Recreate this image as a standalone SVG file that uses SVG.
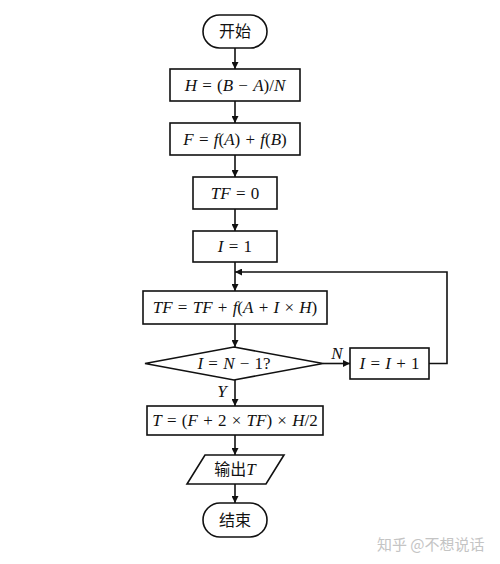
<svg xmlns="http://www.w3.org/2000/svg" width="500" height="564" viewBox="0 0 500 564">
<defs>
<marker id="ah" viewBox="0 0 10 10" refX="10" refY="5" markerWidth="7" markerHeight="7" markerUnits="userSpaceOnUse" orient="auto">
<path d="M0,0 L10,5 L0,10 z" fill="#111"/>
</marker>
<style>
.shape{fill:#fff;stroke:#111;stroke-width:1.6}
.conn{fill:none;stroke:#111;stroke-width:1.6}
.m{font-family:"Liberation Serif","DejaVu Serif",serif;font-size:17px;fill:#111;text-anchor:middle;word-spacing:1px}
.i{font-style:italic}
.cn{font-family:"Liberation Serif","Noto Sans CJK SC",serif;font-size:16px;fill:#111;text-anchor:middle}
.wm{font-family:"Noto Sans CJK SC",sans-serif;font-size:15px;fill:#c4c4c4}
</style>
</defs>
<rect width="500" height="564" fill="#fff"/>
<g id="connectors">
<line class="conn" x1="235" y1="48" x2="235" y2="69" marker-end="url(#ah)"/>
<line class="conn" x1="235" y1="101" x2="235" y2="123" marker-end="url(#ah)"/>
<line class="conn" x1="235" y1="155" x2="235" y2="177" marker-end="url(#ah)"/>
<line class="conn" x1="235" y1="209" x2="235" y2="231" marker-end="url(#ah)"/>
<line class="conn" x1="235" y1="262" x2="235" y2="291" marker-end="url(#ah)"/>
<line class="conn" x1="235" y1="324" x2="235" y2="347" marker-end="url(#ah)"/>
<line class="conn" x1="323" y1="363.5" x2="350" y2="363.5" marker-end="url(#ah)"/>
<polyline class="conn" points="429,363.5 447,363.5 447,272 235,272" marker-end="url(#ah)"/>
<line class="conn" x1="235" y1="380" x2="235" y2="406" marker-end="url(#ah)"/>
<line class="conn" x1="235" y1="435" x2="235" y2="455" marker-end="url(#ah)"/>
<line class="conn" x1="235" y1="484" x2="235" y2="503" marker-end="url(#ah)"/>
<text class="m i" x="337" y="359">N</text>
<text class="m i" x="222" y="397">Y</text>
</g>
<g id="start">
<rect class="shape" x="203" y="15" width="64" height="33" rx="16.5"/>
<text class="cn" x="235" y="37">开始</text>
</g>
<g id="h">
<rect class="shape" x="170" y="69" width="130" height="32"/>
<text class="m" x="235" y="91"><tspan class="i">H</tspan> = (<tspan class="i">B</tspan> − <tspan class="i">A</tspan>)/<tspan class="i">N</tspan></text>
</g>
<g id="f">
<rect class="shape" x="170" y="123" width="130" height="32"/>
<text class="m" x="235" y="145"><tspan class="i">F</tspan> = <tspan class="i">f</tspan>(<tspan class="i">A</tspan>) + <tspan class="i">f</tspan>(<tspan class="i">B</tspan>)</text>
</g>
<g id="tf0">
<rect class="shape" x="193" y="177" width="84" height="32"/>
<text class="m" x="235" y="199"><tspan class="i">TF</tspan> = 0</text>
</g>
<g id="i1">
<rect class="shape" x="193" y="231" width="84" height="31"/>
<text class="m" x="235" y="252"><tspan class="i">I</tspan> = 1</text>
</g>
<g id="tfsum">
<rect class="shape" x="143" y="291" width="184" height="33"/>
<text class="m" x="235" y="313"><tspan class="i">TF</tspan> = <tspan class="i">TF</tspan> + <tspan class="i">f</tspan>(<tspan class="i">A</tspan> + <tspan class="i">I</tspan> × <tspan class="i">H</tspan>)</text>
</g>
<g id="cond">
<polygon class="shape" points="145,363.5 234,347 323,363.5 234,380"/>
<text class="m" x="234" y="369"><tspan class="i">I</tspan> = <tspan class="i">N</tspan> − 1?</text>
</g>
<g id="inc">
<rect class="shape" x="350" y="348" width="79" height="31"/>
<text class="m" x="389.5" y="369"><tspan class="i">I</tspan> = <tspan class="i">I</tspan> + 1</text>
</g>
<g id="t">
<rect class="shape" x="147" y="406" width="176" height="29"/>
<text class="m" x="235" y="426"><tspan class="i">T</tspan> = (<tspan class="i">F</tspan> + 2 × <tspan class="i">TF</tspan>) × <tspan class="i">H</tspan>/2</text>
</g>
<g id="out">
<polygon class="shape" points="205,455 284,455 266,484 187,484"/>
<text class="cn" x="235" y="475">输出<tspan class="i" style="font-size:17px">T</tspan></text>
</g>
<g id="end">
<rect class="shape" x="203" y="503" width="64" height="34" rx="17"/>
<text class="cn" x="235" y="526">结束</text>
</g>
<text class="wm" x="377" y="550">知乎 @不想说话</text>
</svg>
